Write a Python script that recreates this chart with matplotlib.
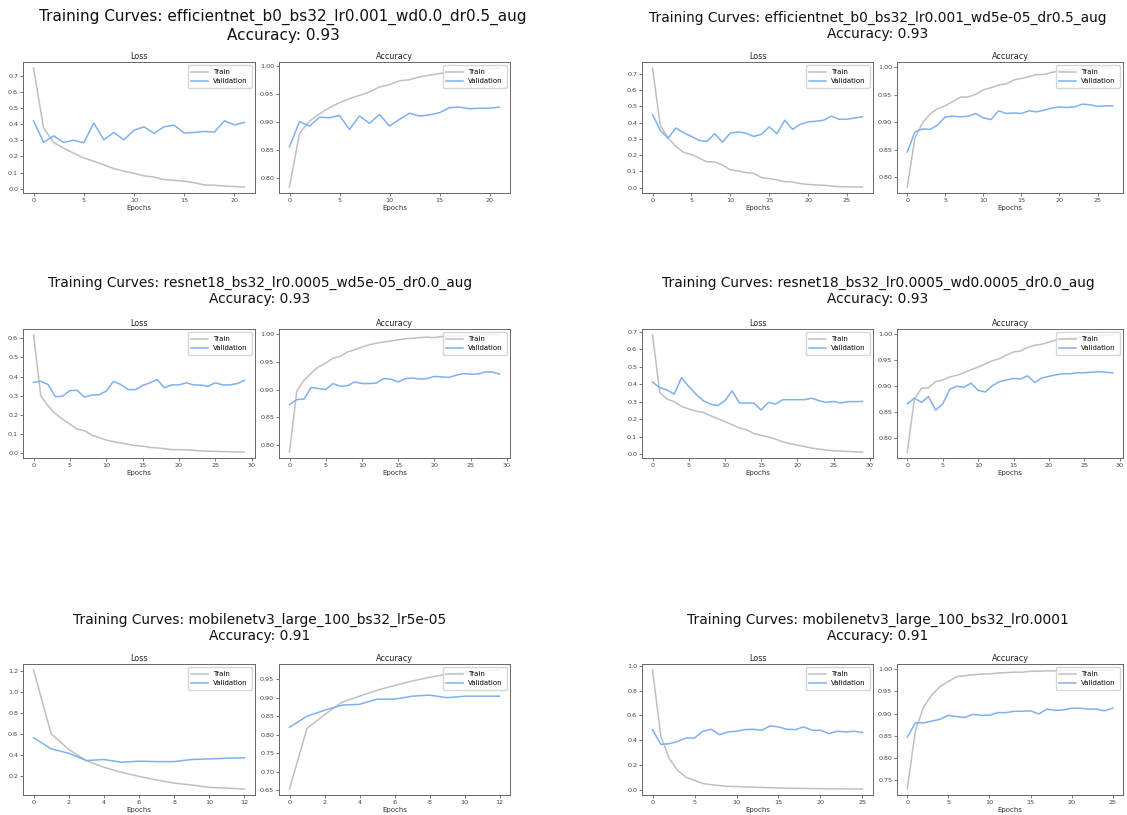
import numpy as np
import matplotlib
matplotlib.use('Agg')
import matplotlib.pyplot as plt
from matplotlib.ticker import MultipleLocator

# ---- data ----
titles = ['Training Curves: efficientnet_b0_bs32_lr0.001_wd0.0_dr0.5_aug\nAccuracy: 0.93',
          'Training Curves: efficientnet_b0_bs32_lr0.001_wd5e-05_dr0.5_aug\nAccuracy: 0.93',
          'Training Curves: resnet18_bs32_lr0.0005_wd5e-05_dr0.0_aug\nAccuracy: 0.93',
          'Training Curves: resnet18_bs32_lr0.0005_wd0.0005_dr0.0_aug\nAccuracy: 0.93',
          'Training Curves: mobilenetv3_large_100_bs32_lr5e-05\nAccuracy: 0.91',
          'Training Curves: mobilenetv3_large_100_bs32_lr0.0001\nAccuracy: 0.91']

eff_wd0_train_loss = [0.747, 0.375, 0.286, 0.25, 0.22, 0.19, 0.17, 0.147, 0.124, 0.108, 0.095,
                      0.079, 0.072, 0.056, 0.052, 0.046, 0.037, 0.023, 0.021, 0.017, 0.013, 0.01]
eff_wd0_val_loss = [0.42, 0.286, 0.327, 0.286, 0.3, 0.284, 0.406, 0.302, 0.348, 0.302, 0.362,
                    0.383, 0.342, 0.383, 0.393, 0.344, 0.348, 0.354, 0.35, 0.42, 0.395, 0.41]
eff_wd0_train_acc = [0.783, 0.879, 0.901, 0.914, 0.925, 0.934, 0.941, 0.947, 0.953, 0.962, 0.966,
                     0.973, 0.975, 0.98, 0.983, 0.986, 0.988, 0.99, 0.992, 0.994, 0.995, 0.996]
eff_wd0_val_acc = [0.855, 0.9, 0.892, 0.908, 0.907, 0.911, 0.886, 0.91, 0.897, 0.913, 0.892,
                   0.904, 0.915, 0.91, 0.912, 0.916, 0.925, 0.926, 0.923, 0.924, 0.924, 0.926]

eff_wd5_train_loss = [0.735, 0.383, 0.306, 0.253, 0.217, 0.203, 0.182, 0.159, 0.159, 0.139, 0.11,
                      0.103, 0.093, 0.089, 0.062, 0.056, 0.048, 0.037, 0.035, 0.025, 0.02, 0.017,
                      0.015, 0.01, 0.006, 0.006, 0.005, 0.004]
eff_wd5_val_loss = [0.45, 0.352, 0.304, 0.366, 0.337, 0.315, 0.29, 0.284, 0.331, 0.28, 0.335,
                    0.342, 0.335, 0.315, 0.327, 0.373, 0.331, 0.414, 0.358, 0.389, 0.404, 0.408,
                    0.414, 0.439, 0.42, 0.42, 0.428, 0.435]
eff_wd5_train_acc = [0.782, 0.871, 0.899, 0.915, 0.925, 0.93, 0.938, 0.946, 0.946, 0.951, 0.959,
                     0.963, 0.968, 0.97, 0.977, 0.98, 0.983, 0.987, 0.987, 0.991, 0.993, 0.995,
                     0.997, 0.998, 0.998, 0.999, 0.999, 0.999]
eff_wd5_val_acc = [0.846, 0.882, 0.888, 0.887, 0.895, 0.91, 0.911, 0.91, 0.911, 0.916, 0.908,
                   0.905, 0.921, 0.916, 0.917, 0.916, 0.921, 0.919, 0.922, 0.926, 0.928, 0.927,
                   0.928, 0.933, 0.932, 0.929, 0.93, 0.93]

res_wd5_train_loss = [0.618, 0.298, 0.246, 0.206, 0.176, 0.15, 0.125, 0.116, 0.093, 0.081, 0.067,
                      0.059, 0.052, 0.045, 0.038, 0.035, 0.029, 0.026, 0.022, 0.017, 0.017, 0.016,
                      0.014, 0.01, 0.009, 0.008, 0.007, 0.006, 0.005, 0.004]
res_wd5_val_loss = [0.37, 0.375, 0.358, 0.294, 0.297, 0.327, 0.327, 0.292, 0.303, 0.304, 0.324,
                    0.375, 0.358, 0.332, 0.331, 0.353, 0.367, 0.384, 0.341, 0.356, 0.356, 0.367,
                    0.356, 0.355, 0.349, 0.367, 0.356, 0.356, 0.363, 0.38]
res_wd5_train_acc = [0.787, 0.897, 0.917, 0.93, 0.941, 0.948, 0.957, 0.96, 0.968, 0.972, 0.977,
                     0.981, 0.984, 0.986, 0.988, 0.99, 0.992, 0.993, 0.994, 0.995, 0.994, 0.996,
                     0.996, 0.997, 0.997, 0.998, 0.998, 0.999, 0.999, 0.999]
res_wd5_val_acc = [0.873, 0.882, 0.883, 0.904, 0.902, 0.9, 0.911, 0.906, 0.907, 0.914, 0.911,
                   0.911, 0.912, 0.92, 0.919, 0.914, 0.92, 0.921, 0.919, 0.92, 0.924, 0.923,
                   0.922, 0.926, 0.929, 0.928, 0.928, 0.932, 0.932, 0.928]

res_wd50_train_loss = [0.682, 0.352, 0.315, 0.3, 0.273, 0.258, 0.245, 0.239, 0.22, 0.202, 0.186,
                       0.168, 0.149, 0.139, 0.117, 0.107, 0.098, 0.085, 0.07, 0.06, 0.051, 0.043,
                       0.034, 0.028, 0.023, 0.019, 0.017, 0.015, 0.013, 0.011]
res_wd50_val_loss = [0.412, 0.38, 0.367, 0.343, 0.437, 0.386, 0.343, 0.305, 0.286, 0.277, 0.305,
                     0.362, 0.292, 0.292, 0.292, 0.252, 0.296, 0.286, 0.311, 0.311, 0.311, 0.311,
                     0.32, 0.305, 0.296, 0.301, 0.292, 0.3, 0.3, 0.301]
res_wd50_train_acc = [0.773, 0.875, 0.896, 0.897, 0.909, 0.912, 0.918, 0.921, 0.926, 0.932, 0.937,
                      0.943, 0.949, 0.953, 0.96, 0.966, 0.968, 0.975, 0.979, 0.981, 0.985, 0.989,
                      0.991, 0.993, 0.994, 0.996, 0.997, 0.998, 0.998, 0.999]
res_wd50_val_acc = [0.866, 0.877, 0.869, 0.88, 0.854, 0.866, 0.894, 0.9, 0.898, 0.906, 0.892,
                    0.889, 0.901, 0.909, 0.912, 0.915, 0.914, 0.92, 0.907, 0.916, 0.919, 0.922,
                    0.924, 0.924, 0.926, 0.926, 0.927, 0.928, 0.927, 0.926]

mob_lr5_train_loss = [1.208, 0.6, 0.449, 0.343, 0.279, 0.231, 0.192, 0.157, 0.128, 0.109, 0.087,
                      0.08, 0.071]
mob_lr5_val_loss = [0.561, 0.455, 0.413, 0.343, 0.353, 0.327, 0.337, 0.333, 0.333, 0.353, 0.359,
                    0.365, 0.369]
mob_lr5_train_acc = [0.653, 0.817, 0.854, 0.888, 0.904, 0.92, 0.933, 0.945, 0.955, 0.964, 0.968,
                     0.972, 0.975]
mob_lr5_val_acc = [0.82, 0.85, 0.866, 0.88, 0.882, 0.896, 0.896, 0.904, 0.907, 0.9, 0.904,
                   0.904, 0.904]

mob_lr1_train_loss = [0.967, 0.43, 0.25, 0.155, 0.1, 0.075, 0.05, 0.04, 0.033, 0.027, 0.025,
                      0.022, 0.02, 0.018, 0.016, 0.014, 0.012, 0.011, 0.01, 0.009, 0.008, 0.007,
                      0.007, 0.006, 0.006, 0.005]
mob_lr1_val_loss = [0.485, 0.366, 0.371, 0.39, 0.417, 0.417, 0.472, 0.488, 0.444, 0.466, 0.472,
                    0.485, 0.488, 0.48, 0.515, 0.507, 0.488, 0.485, 0.507, 0.48, 0.48, 0.453,
                    0.472, 0.466, 0.472, 0.461]
mob_lr1_train_acc = [0.73, 0.863, 0.915, 0.942, 0.961, 0.972, 0.983, 0.985, 0.987, 0.989, 0.989,
                     0.991, 0.992, 0.993, 0.993, 0.995, 0.995, 0.996, 0.996, 0.996, 0.997, 0.997,
                     0.997, 0.998, 0.998, 0.998]
mob_lr1_val_acc = [0.847, 0.879, 0.879, 0.883, 0.887, 0.896, 0.893, 0.891, 0.898, 0.896, 0.896,
                   0.902, 0.902, 0.905, 0.905, 0.906, 0.899, 0.91, 0.907, 0.908, 0.912, 0.912,
                   0.91, 0.91, 0.906, 0.912]

runs = [(eff_wd0_train_loss, eff_wd0_val_loss, eff_wd0_train_acc, eff_wd0_val_acc),
        (eff_wd5_train_loss, eff_wd5_val_loss, eff_wd5_train_acc, eff_wd5_val_acc),
        (res_wd5_train_loss, res_wd5_val_loss, res_wd5_train_acc, res_wd5_val_acc),
        (res_wd50_train_loss, res_wd50_val_loss, res_wd50_train_acc, res_wd50_val_acc),
        (mob_lr5_train_loss, mob_lr5_val_loss, mob_lr5_train_acc, mob_lr5_val_acc),
        (mob_lr1_train_loss, mob_lr1_val_loss, mob_lr1_train_acc, mob_lr1_val_acc)]

# ---- layout (pixel boxes: left, top, right, bottom) ----
W, H = 1127, 815
cols = [((23, 255), (279, 510)), ((642, 873), (897, 1123))]
rows = [(62, 193), (329, 458), (664, 795)]
# per panel title centre x, centre y and font size
title_pos = [(283, 26, 10.95), (878, 26, 9.95),
             (260, 291, 9.95), (878, 291, 9.95),
             (260, 628, 9.95), (878, 628, 9.95)]

TRAIN_C = '#c0c0c0'
VAL_C = '#7fb1ee'

fig = plt.figure(figsize=(W / 100, H / 100), dpi=100)


def box(l, t, r, b):
    return [l / W, 1 - b / H, (r - l) / W, (b - t) / H]


def style(ax, name, xstep, ystep):
    ax.set_title(name, fontsize=5.8, pad=2, color='#222222')
    ax.set_xlabel('Epochs', fontsize=5, labelpad=1.5, color='#333333')
    ax.xaxis.set_major_locator(MultipleLocator(xstep))
    ax.yaxis.set_major_locator(MultipleLocator(ystep))
    ax.tick_params(labelsize=4.6, length=2, width=0.5, pad=1.5, colors='#444444')
    for s in ax.spines.values():
        s.set_linewidth(0.7)
        s.set_color('#666666')
    ax.legend(fontsize=5, loc='upper right', handlelength=2.4, borderpad=0.5,
              labelspacing=0.5, framealpha=0.8, edgecolor='#cccccc', fancybox=True)


for i, (tl, vl, ta, va) in enumerate(runs):
    r, c = divmod(i, 2)
    top, bot = rows[r]
    (ll, lr), (al, ar) = cols[c]
    ep = np.arange(len(tl))
    xstep = 2 if len(tl) < 15 else 5

    ax1 = fig.add_axes(box(ll, top, lr, bot))
    ax1.plot(ep, tl, color=TRAIN_C, lw=1.1, label='Train')
    ax1.plot(ep, vl, color=VAL_C, lw=1.1, label='Validation')
    style(ax1, 'Loss', xstep, 0.2 if max(tl) > 0.9 else 0.1)

    ax2 = fig.add_axes(box(al, top, ar, bot))
    ax2.plot(ep, ta, color=TRAIN_C, lw=1.1, label='Train')
    ax2.plot(ep, va, color=VAL_C, lw=1.1, label='Validation')
    style(ax2, 'Accuracy', xstep, 0.05)

    tx, ty, fs = title_pos[i]
    fig.text(tx / W, 1 - ty / H, titles[i], ha='center', va='center',
             fontsize=fs, linespacing=1.2, color='#111111')

fig.savefig('out.png', dpi=100)
